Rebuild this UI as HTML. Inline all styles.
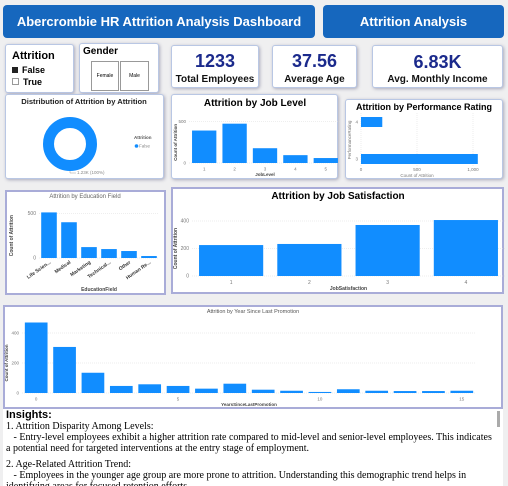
<!DOCTYPE html>
<html><head><meta charset="utf-8">
<style>
body{margin:0;width:508px;height:486px;background:#efeff0;font-family:"Liberation Sans",sans-serif;position:relative;overflow:hidden}
.a{position:absolute;box-sizing:border-box}
.hdr{background:#1667be;color:#fff;font-weight:bold;font-size:13px;border-radius:4px;display:flex;align-items:center;justify-content:center;white-space:nowrap}
.card{background:#fff;border:1px solid #b9c7e4;border-radius:3px;box-shadow:1px 1px 3px #aab}
.pcard{background:#fff;border:2px solid #a9acd8}
.kv{color:#1b2a8c;font-weight:bold;font-size:18px;text-align:center;position:absolute;width:100%}
.kl{color:#111;font-weight:bold;font-size:10px;text-align:center;position:absolute;width:100%;white-space:nowrap}
svg{position:absolute;left:0;top:0}
</style></head><body>
<div class="a hdr" style="left:3px;top:5px;width:312px;height:33px">Abercrombie HR Attrition Analysis Dashboard</div>
<div class="a hdr" style="left:323px;top:5px;width:181px;height:33px">Attrition Analysis</div>

<div class="a card" style="left:5px;top:44px;width:69px;height:49px">
 <div style="position:absolute;left:6px;top:5px;font-weight:bold;font-size:11px">Attrition</div>
 <div style="position:absolute;left:6px;top:20px;font-size:9px;font-weight:bold"><span style="display:inline-block;width:6px;height:6px;background:#222;margin-right:4px"></span>False</div>
 <div style="position:absolute;left:6px;top:32px;font-size:9px;font-weight:bold"><span style="display:inline-block;width:5px;height:5px;border:1px solid #999;margin-right:4px"></span>True</div>
</div>
<div class="a card" style="left:79px;top:43px;width:80px;height:50px">
 <div style="position:absolute;left:3px;top:2px;font-weight:bold;font-size:10px">Gender</div>
 <div style="position:absolute;left:11px;top:17px;width:26px;height:28px;border:1px solid #999;font-size:5px;text-align:center;line-height:28px">Female</div>
 <div style="position:absolute;left:40px;top:17px;width:27px;height:28px;border:1px solid #999;font-size:5px;text-align:center;line-height:28px">Male</div>
</div>
<div class="a card" style="left:171px;top:45px;width:88px;height:43px"><div class="kv" style="top:5px">1233</div><div class="kl" style="top:28px">Total Employees</div></div>
<div class="a card" style="left:272px;top:45px;width:85px;height:43px"><div class="kv" style="top:5px">37.56</div><div class="kl" style="top:28px">Average Age</div></div>
<div class="a card" style="left:372px;top:45px;width:131px;height:43px"><div class="kv" style="top:6px">6.83K</div><div class="kl" style="top:28px">Avg. Monthly Income</div></div>

<div class="a card" style="left:5px;top:94px;width:159px;height:85px"></div>
<div class="a card" style="left:171px;top:94px;width:167px;height:85px"></div>
<div class="a card" style="left:345px;top:99px;width:158px;height:80px"></div>
<div class="a pcard" style="left:5px;top:190px;width:161px;height:105px"></div>
<div class="a pcard" style="left:171px;top:187px;width:333px;height:107px"></div>
<div class="a pcard" style="left:3px;top:305px;width:500px;height:104px"></div>

<div class="a" style="left:3px;top:409px;width:500px;height:77px;background:#fff;overflow:hidden;font-family:'Liberation Serif',serif;font-size:10px;line-height:11px;padding:0 10px 0 3px">
 <div style="font-family:'Liberation Sans',sans-serif;font-weight:bold;font-size:11px;line-height:12px">Insights:</div>
 <div>1. Attrition Disparity Among Levels:</div>
 <div>&nbsp;&nbsp;&nbsp;- Entry-level employees exhibit a higher attrition rate compared to mid-level and senior-level employees. This indicates a potential need for targeted interventions at the entry stage of employment.</div>
 <div style="margin-top:5px">2. Age-Related Attrition Trend:</div>
 <div>&nbsp;&nbsp;&nbsp;- Employees in the younger age group are more prone to attrition. Understanding this demographic trend helps in identifying areas for focused retention efforts.</div>
 <div style="position:absolute;right:3px;top:2px;width:3px;height:16px;background:#aaa"></div>
</div>

<svg id="s" width="508" height="486" font-family="Liberation Sans, sans-serif"></svg>
<script>
const jobLevels=["1","2","3","4","5"];
const jobLevelVals=[393,476,179,95,60];
const perfRatings=["4","3"];
const perfVals=[190,1043];
const eduFields=["Life Scien...","Medical","Marketing","Technical...","Other","Human Re..."];
const eduVals=[510,400,122,100,78,22];
const satLevels=["1","2","3","4"];
const satVals=[225,233,371,407];
const promoYears=[0,1,2,3,4,5,6,7,8,9,10,11,12,13,14,15];
const promoVals=[470,307,135,47,58,47,29,62,22,15,7,25,15,13,13,15];
const donutLabels=["False"];
const donutVals=[1233];

const S=document.getElementById('s');
const NS="http://www.w3.org/2000/svg";
const BLUE="#118dff";
function el(t,a,txt){const e=document.createElementNS(NS,t);for(const k in a)e.setAttribute(k,a[k]);if(txt!==undefined)e.textContent=txt;S.appendChild(e);return e;}
function text(x,y,s,size,opt){opt=opt||{};const e=el('text',{x:x,y:y,'font-size':size,fill:opt.fill||'#666','text-anchor':opt.anchor||'middle','font-weight':opt.bold?'bold':'normal'},s);if(opt.rot)e.setAttribute('transform','rotate('+opt.rot+' '+x+' '+y+')');return e;}

let t;
t=text(84,104,"Distribution of Attrition by Attrition",7.6,{fill:'#222',bold:1});
t=text(255,106,"Attrition by Job Level",10,{fill:'#000',bold:1});
t=text(424,110,"Attrition by Performance Rating",9,{fill:'#000',bold:1});
t=text(85,198,"Attrition by Education Field",6,{fill:'#666'});
t=text(338,199,"Attrition by Job Satisfaction",10,{fill:'#000',bold:1});
t=text(253,313,"Attrition by Year Since Last Promotion",5.5,{fill:'#555'});

(function(){const cx=70,cy=144,R=27,r=16;const total=donutVals.reduce((a,b)=>a+b,0);let a0=-Math.PI/2;
donutVals.forEach((v,i)=>{const frac=v/total;if(frac>=0.9999){const c=el('circle',{cx:cx,cy:cy,r:(R+r)/2,fill:'none',stroke:BLUE,'stroke-width':R-r});}else{const a1=a0+frac*2*Math.PI;const p=`M${cx+R*Math.cos(a0)} ${cy+R*Math.sin(a0)} A${R} ${R} 0 ${frac>0.5?1:0} 1 ${cx+R*Math.cos(a1)} ${cy+R*Math.sin(a1)} L${cx+r*Math.cos(a1)} ${cy+r*Math.sin(a1)} A${r} ${r} 0 ${frac>0.5?1:0} 0 ${cx+r*Math.cos(a0)} ${cy+r*Math.sin(a0)}Z`;const s=el('path',{d:p,fill:BLUE});a0=a1;}});
el('path',{d:'M70 171 L70 173 L76 173',stroke:'#999',fill:'none','stroke-width':0.5});
text(77,174,(total/1000).toFixed(2)+"K (100%)",4.5,{anchor:'start',fill:'#888'});
text(134,139,"Attrition",4.5,{anchor:'start',fill:'#555',bold:1});
const lc=el('circle',{cx:136.5,cy:146,r:1.8,fill:BLUE});
text(139,147.5,donutLabels[0],4.5,{anchor:'start',fill:'#888'});})();

function vbars(o){
 const y=v=>o.y0-(v/o.vmax)*(o.y0-o.ytop);
 o.ticks.forEach(tv=>{const yy=y(tv);el('line',{x1:o.x0,x2:o.x1,y1:yy,y2:yy,stroke:'#ddd','stroke-width':0.5,'stroke-dasharray':'1,1'});text(o.x0-3,yy+1.5,String(tv),o.fs,{anchor:'end',fill:'#777'});});
 const step=(o.x1-o.x0)/o.cats.length;
 o.cats.forEach((c,i)=>{const cx=o.x0+step*(i+0.5);const w=step*o.bw;const r=el('rect',{x:cx-w/2,y:y(o.vals[i]),width:w,height:o.y0-y(o.vals[i]),fill:BLUE});
  if(o.rotLabels){text(cx+2,o.y0+5,c,o.fs,{anchor:'end',fill:'#333',rot:-35,bold:1});}
  else if(!o.labelFilter||o.labelFilter(i))text(cx,o.y0+o.fs+3,c,o.fs,{fill:'#777'});});
 if(o.xt)text((o.x0+o.x1)/2,o.xtY,o.xt,o.fs,{fill:'#444',bold:1});
 if(o.yt)text(o.ytX,(o.y0+o.ytop)/2,o.yt,o.fs,{fill:'#444',rot:-90,bold:1});
}
vbars({name:'job-level',cats:jobLevels,vals:jobLevelVals,x0:189,x1:341,y0:163,ytop:121.7,vmax:500,ticks:[0,500],bw:0.8,fs:4.5,xt:'JobLevel',xtY:176,yt:'Count of Attrition',ytX:177});
vbars({name:'education',cats:eduFields,vals:eduVals,x0:39,x1:159,y0:258,ytop:213.3,vmax:500,ticks:[0,500],bw:0.78,fs:5,rotLabels:1,xt:'EducationField',xtY:291,yt:'Count of Attrition',ytX:13});
vbars({name:'job-satisfaction',cats:satLevels,vals:satVals,x0:192,x1:505,y0:276,ytop:221,vmax:400,ticks:[0,200,400],bw:0.82,fs:5,xt:'JobSatisfaction',xtY:290,yt:'Count of Attrition',ytX:177});
vbars({name:'promotion',cats:promoYears.map(String),vals:promoVals,x0:22,x1:476,y0:393,ytop:333,vmax:400,ticks:[0,200,400],bw:0.8,fs:4.5,labelFilter:i=>promoYears[i]%5===0,xt:'YearsSinceLastPromotion',xtY:406,yt:'Count of Attrition',ytX:8});

(function(){const x0=361,x1=473,vmax=1000;const x=v=>x0+(v/vmax)*(x1-x0);const ys=[122,159];
[0,500,1000].forEach(tv=>{el('line',{x1:x(tv),x2:x(tv),y1:113,y2:166,stroke:'#ddd','stroke-width':0.5,'stroke-dasharray':'1,1'});text(x(tv),171,tv.toLocaleString('en-US'),4.5,{fill:'#777'});});
perfRatings.forEach((c,i)=>{const r=el('rect',{x:x0,y:ys[i]-5,width:x(perfVals[i])-x0,height:10,fill:BLUE});text(x0-3,ys[i]+1.5,c,4.5,{anchor:'end',fill:'#777'});});
text(417,177,'Count of Attrition',4.5,{fill:'#777'});text(351,140,'PerformanceRating',4.5,{fill:'#777',rot:-90});})();
</script>
</body></html>
